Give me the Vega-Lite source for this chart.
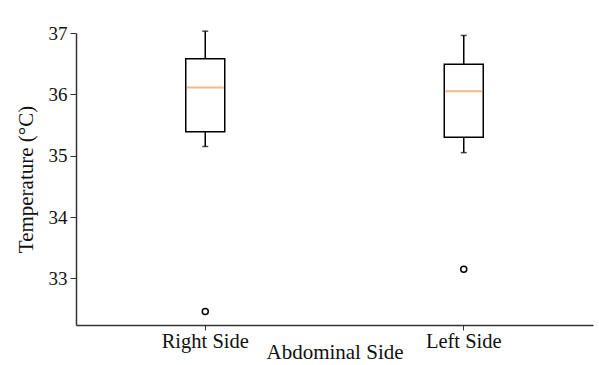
{
  "$schema": "https://vega.github.io/schema/vega-lite/v6.json",
  "width": 517,
  "height": 292,
  "autosize": "none",
  "padding": {"left": 76, "top": 33, "right": 6, "bottom": 40},
  "background": "white",
  "config": {
    "view": {"stroke": null},
    "font": "Liberation Serif",
    "axis": {
      "domainColor": "#333333",
      "domainWidth": 1.5,
      "tickColor": "#333333",
      "tickWidth": 1,
      "labelFont": "Liberation Serif",
      "titleFont": "Liberation Serif",
      "labelColor": "#111111",
      "titleColor": "#111111",
      "titleFontWeight": "normal",
      "grid": false
    }
  },
  "datasets": {
    "boxes": [
      {"side": "Right Side", "lower": 35.15, "q1": 35.39, "median": 36.11, "q3": 36.58, "upper": 37.03},
      {"side": "Left Side", "lower": 35.05, "q1": 35.3, "median": 36.05, "q3": 36.49, "upper": 36.96}
    ],
    "outliers": [
      {"side": "Right Side", "value": 32.46},
      {"side": "Left Side", "value": 33.15}
    ]
  },
  "encoding": {
    "x": {
      "field": "side",
      "type": "nominal",
      "sort": ["Right Side", "Left Side"],
      "scale": {"paddingInner": 0, "paddingOuter": 0},
      "axis": {
        "title": "Abdominal Side",
        "labelAngle": 0,
        "labelFontSize": 20.5,
        "titleFontSize": 21,
        "tickSize": 5,
        "labelPadding": 1,
        "titlePadding": -10
      }
    }
  },
  "layer": [
    {
      "data": {"name": "boxes"},
      "mark": {"type": "rule", "color": "black", "strokeWidth": 1.5},
      "encoding": {
        "y": {
          "field": "lower",
          "type": "quantitative",
          "scale": {"domain": [32.24, 37], "nice": false, "zero": false},
          "axis": {
            "title": "Temperature (°C)",
            "values": [33, 34, 35, 36, 37],
            "format": "d",
            "labelFontSize": 19,
            "titleFontSize": 21,
            "tickSize": 6,
            "labelPadding": 3,
            "titlePadding": 12
          }
        },
        "y2": {"field": "upper"}
      }
    },
    {
      "data": {"name": "boxes"},
      "mark": {"type": "bar", "size": 39, "fill": "white", "stroke": "black", "strokeWidth": 1.5},
      "encoding": {
        "y": {"field": "q1", "type": "quantitative"},
        "y2": {"field": "q3"}
      }
    },
    {
      "data": {"name": "boxes"},
      "mark": {"type": "tick", "size": 37, "thickness": 2, "color": "#f39a58", "orient": "horizontal"},
      "encoding": {
        "y": {"field": "median", "type": "quantitative"}
      }
    },
    {
      "data": {"name": "boxes"},
      "mark": {"type": "tick", "size": 6, "thickness": 1.5, "color": "black", "orient": "horizontal"},
      "encoding": {
        "y": {"field": "upper", "type": "quantitative"}
      }
    },
    {
      "data": {"name": "boxes"},
      "mark": {"type": "tick", "size": 6, "thickness": 1.5, "color": "black", "orient": "horizontal"},
      "encoding": {
        "y": {"field": "lower", "type": "quantitative"}
      }
    },
    {
      "data": {"name": "outliers"},
      "mark": {"type": "point", "shape": "circle", "filled": false, "stroke": "black", "strokeWidth": 1.5, "size": 36, "opacity": 1},
      "encoding": {
        "y": {"field": "value", "type": "quantitative"}
      }
    }
  ]
}
